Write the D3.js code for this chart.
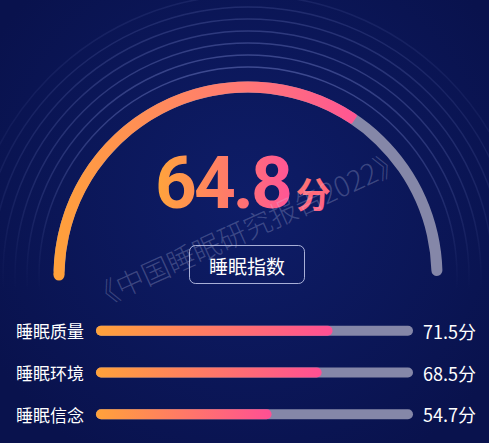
<!DOCTYPE html>
<html>
<head>
<meta charset="utf-8">
<script src="https://cdn.jsdelivr.net/npm/d3@7"></script>
<style>
  html, body { margin: 0; padding: 0; background: #0a1452; }
  svg { display: block; }
</style>
</head>
<body>
<div id="chart"></div>
<script>
// data
const gaugeValue = 64.8;
const gaugeLabel = "睡眠指数";
const unit = "分";
const categories = ["睡眠质量", "睡眠环境", "睡眠信念"];
const scores = [71.5, 68.5, 54.7];
const watermark = "《中国睡眠研究报告2022》";

const W = 489, H = 443;
const cx = 248, cy = 276, R = 189;

let svg = d3.select("#chart").append("svg")
    .attr("width", W)
    .attr("height", H);

let defs = svg.append("defs");

// background glow
let bg = defs.append("radialGradient").attr("id", "bgGlow")
    .attr("gradientUnits", "userSpaceOnUse")
    .attr("cx", cx).attr("cy", 200).attr("r", 300);
bg.append("stop").attr("offset", "0%").attr("stop-color", "#0e1d68");
bg.append("stop").attr("offset", "100%").attr("stop-color", "#09124d");

// rings fade downward
let ringGrad = defs.append("linearGradient").attr("id", "ringFade")
    .attr("gradientUnits", "userSpaceOnUse")
    .attr("x1", 0).attr("y1", 0).attr("x2", 0).attr("y2", 290);
ringGrad.append("stop").attr("offset", "0%").attr("stop-color", "#8a96e0").attr("stop-opacity", 0.5);
ringGrad.append("stop").attr("offset", "55%").attr("stop-color", "#8a96e0").attr("stop-opacity", 0.25);
ringGrad.append("stop").attr("offset", "100%").attr("stop-color", "#8a96e0").attr("stop-opacity", 0);

// gauge gradient (coordinates relative to gauge centre)
let arcGrad = defs.append("linearGradient").attr("id", "arcGrad")
    .attr("gradientUnits", "userSpaceOnUse")
    .attr("x1", 55 - cx).attr("y1", 0).attr("x2", 360 - cx).attr("y2", 0);
arcGrad.append("stop").attr("offset", "0%").attr("stop-color", "#ffa03a");
arcGrad.append("stop").attr("offset", "60%").attr("stop-color", "#ff7a74");
arcGrad.append("stop").attr("offset", "100%").attr("stop-color", "#ff5494");

let numGrad = defs.append("linearGradient").attr("id", "numGrad")
    .attr("gradientUnits", "userSpaceOnUse")
    .attr("x1", 155).attr("y1", 0).attr("x2", 290).attr("y2", 0);
numGrad.append("stop").attr("offset", "0%").attr("stop-color", "#ffa53a");
numGrad.append("stop").attr("offset", "55%").attr("stop-color", "#ff7a6a");
numGrad.append("stop").attr("offset", "100%").attr("stop-color", "#ff5596");

let unitGrad = defs.append("linearGradient").attr("id", "unitGrad")
    .attr("x1", 0).attr("y1", 0).attr("x2", 1).attr("y2", 1);
unitGrad.append("stop").attr("offset", "0%").attr("stop-color", "#ffa03a");
unitGrad.append("stop").attr("offset", "100%").attr("stop-color", "#ff5a90");

let barGrad = defs.append("linearGradient").attr("id", "barGrad")
    .attr("x1", 0).attr("y1", 0).attr("x2", 1).attr("y2", 0);
barGrad.append("stop").attr("offset", "0%").attr("stop-color", "#ffa23a");
barGrad.append("stop").attr("offset", "100%").attr("stop-color", "#ff4f94");

svg.append("rect").attr("width", W).attr("height", H).attr("fill", "url(#bgGlow)");

// concentric rings behind the gauge
let ringRadii = d3.range(7).map(i => R + 20 + i * 12);
svg.append("g").selectAll("circle")
    .data(ringRadii)
    .enter()
    .append("circle")
    .attr("cx", cx).attr("cy", cy)
    .attr("r", d => d)
    .attr("fill", "none")
    .attr("stroke", "url(#ringFade)")
    .attr("stroke-width", 1.5)
    .attr("opacity", (d, i) => 1 - i * 0.13);

// gauge
let angle = d3.scaleLinear().domain([0, 100]).range([-105, 110]).clamp(true);
let toRad = d => d * Math.PI / 180;
let arc = d3.arc().innerRadius(R - 5.5).outerRadius(R + 5.5).cornerRadius(5.5);

let gauge = svg.append("g").attr("transform", "translate(" + cx + "," + cy + ")");
gauge.append("path")
    .attr("d", arc({startAngle: toRad(-90), endAngle: toRad(90)}))
    .attr("fill", "#8587a8");
gauge.append("path")
    .attr("d", d3.arc().innerRadius(R - 5.5).outerRadius(R + 5.5).cornerRadius(2)
        ({startAngle: toRad(-90), endAngle: toRad(angle(gaugeValue))}))
    .attr("fill", "url(#arcGrad)");
gauge.append("circle")
    .attr("cx", -R).attr("cy", -1).attr("r", 5.5)
    .attr("fill", "#ffa03a");

// big number
let num = svg.append("text")
    .attr("x", 155).attr("y", 208)
    .style("font-family", "Roboto, 'Noto Sans', sans-serif")
    .style("font-weight", 700)
    .style("font-size", "73px")
    .style("letter-spacing", "-3px")
    .attr("fill", "url(#numGrad)");
num.append("tspan").text(gaugeValue.toFixed(1));
num.append("tspan")
    .attr("dx", 6)
    .style("font-family", "'Noto Sans CJK SC', sans-serif")
    .style("font-size", "35px")
    .style("letter-spacing", "0px")
    .attr("fill", "url(#unitGrad)")
    .text(unit);

// label box
svg.append("rect")
    .attr("x", 189.5).attr("y", 245.5)
    .attr("width", 115).attr("height", 38)
    .attr("rx", 6)
    .attr("fill", "none")
    .attr("stroke", "rgba(220,225,255,0.75)")
    .attr("stroke-width", 1);
svg.append("text")
    .attr("x", 247).attr("y", 265)
    .attr("text-anchor", "middle")
    .attr("dominant-baseline", "central")
    .style("font-family", "'Noto Sans CJK SC', sans-serif")
    .style("font-size", "19px")
    .attr("fill", "#ffffff")
    .text(gaugeLabel);

// watermark
svg.append("text")
    .attr("transform", "translate(246,228) rotate(-24.5)")
    .attr("text-anchor", "middle")
    .attr("dominant-baseline", "central")
    .style("font-family", "'Noto Sans CJK SC', sans-serif")
    .style("font-weight", 300)
    .style("font-size", "28px")
    .attr("fill", "rgba(200,205,235,0.26)")
    .text(watermark);

// bars
let y = d3.scaleBand().domain(categories).range([310, 435]).padding(0);
let x = d3.scaleLinear().domain([0, 100]).range([73, 436]);
let barL = 96, barR = 413, barH = 10;

let rows = svg.append("g").selectAll("g")
    .data(categories)
    .enter()
    .append("g")
    .attr("transform", d => "translate(0," + (y(d) + y.bandwidth() / 2) + ")");

rows.append("text")
    .attr("x", 16).attr("y", 0)
    .attr("dominant-baseline", "central")
    .style("font-family", "'Noto Sans CJK SC', sans-serif")
    .style("font-size", "17px")
    .attr("fill", "#ffffff")
    .text(d => d);

rows.append("rect")
    .attr("x", barL).attr("y", -barH / 2)
    .attr("width", barR - barL).attr("height", barH)
    .attr("rx", barH / 2)
    .attr("fill", "#8587a8");

rows.append("rect")
    .attr("x", barL).attr("y", -barH / 2)
    .attr("width", (d, i) => x(scores[i]) - barL).attr("height", barH)
    .attr("rx", barH / 2)
    .attr("fill", "url(#barGrad)");

rows.append("text")
    .attr("x", 423).attr("y", 0)
    .attr("dominant-baseline", "central")
    .style("font-family", "'Noto Sans CJK SC', sans-serif")
    .style("font-size", "18px")
    .attr("fill", "#ffffff")
    .text((d, i) => scores[i].toFixed(1) + unit);
</script>
</body>
</html>
